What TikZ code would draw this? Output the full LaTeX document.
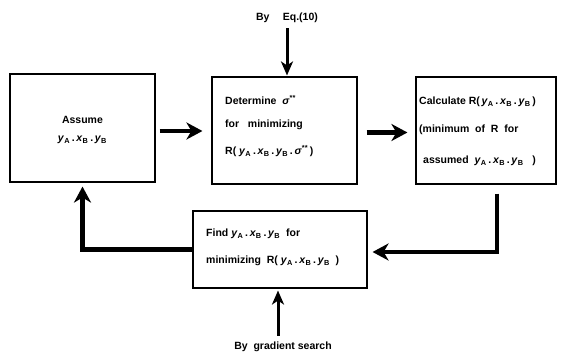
\documentclass[tikz,border=0pt]{standalone}
\usepackage{fontspec}
\setmainfont{Liberation Sans}
\usetikzlibrary{arrows.meta}
\newcommand{\vyA}{\textit{y}\textsubscript{A}}
\newcommand{\vxB}{\textit{x}\textsubscript{B}}
\newcommand{\vyB}{\textit{y}\textsubscript{B}}
\newcommand{\sig}{\textit{σ}\textsuperscript{**}}
\tikzset{
  box/.style={draw, line width=1.1pt, inner sep=0pt},
  txt/.style={font=\bfseries\fontsize{10.5}{12}\selectfont, inner sep=0pt},
  bigarr/.style={line width=4.5pt, -{Stealth[length=16pt,width=17pt,inset=5pt]}},
  thinarr/.style={line width=3pt, -{Stealth[length=14pt,width=12pt,inset=4pt]}}
}
\begin{document}
\begin{tikzpicture}[x=1pt,y=-1pt]
\useasboundingbox (0,0) rectangle (571,358);
% boxes
\node[box, minimum width=145pt, minimum height=108pt] (A) at (82.5,128) {};
\node[box, minimum width=145pt, minimum height=107pt] (D) at (284.5,130.5) {};
\node[box, minimum width=140pt, minimum height=107pt] (C) at (486,130.5) {};
\node[box, minimum width=174pt, minimum height=77pt] (F) at (280,249.5) {};
% texts
\node[txt] (a1) at (82.5,120) {Assume};
\node[txt] (a2) at (82.5,140) {\vyA\,.\,\vxB\,.\,\vyB};
\node[txt, anchor=west] (d1) at (225,100) {Determine\ \ \sig};
\node[txt, anchor=west] (d2) at (225,125) {for\ \ \ minimizing};
\node[txt, anchor=west] (d3) at (225,151) {R(\ \vyA\,.\,\vxB\,.\,\vyB\,.\,\sig\,)};
\node[txt, anchor=west] (c1) at (419,102) {Calculate\ R(\,\vyA\,.\,\vxB\,.\,\vyB\,)};
\node[txt, anchor=west] (c2) at (419,130) {(minimum\ \ of\ \ R\ \ for};
\node[txt, anchor=west] (c3) at (423,161) {assumed\ \ \vyA\,.\,\vxB\,.\,\vyB\ \ \ )};
\node[txt, anchor=west] (f1) at (206,234) {Find\ \vyA\,.\,\vxB\,.\,\vyB\ \ for};
\node[txt, anchor=west] (f2) at (206,261) {minimizing\ \ R(\ \vyA\,.\,\vxB\,.\,\vyB\ \ )};
\node[txt] (eq) at (287,18) {By\quad\ Eq.(10)};
\node[txt] (gs) at (283,347) {By\ \ gradient search};
% connectors
\draw[bigarr, shorten <=4pt, shorten >=9pt] ([yshift=-3pt]A.east) -- ([yshift=-3pt]A.east -| D.west);
\draw[bigarr, shorten <=9pt, shorten >=8pt] ([yshift=-2pt]D.east) -- ([yshift=-2pt]D.east -| C.west);
\draw[bigarr, shorten >=5pt] ([xshift=11pt,yshift=-9pt]C.south) |- ([yshift=-2.5pt]F.east);
\draw[bigarr, shorten >=4pt] (F.west) -| (A.south);
\draw[thinarr, shorten <=5pt, shorten >=1pt] ([xshift=2.5pt]D.north |- eq.south) -- ([xshift=2.5pt]D.north);
\draw[thinarr, shorten <=6pt, shorten >=2pt] ([xshift=-2pt]F.south |- gs.north) -- ([xshift=-2pt]F.south);
\end{tikzpicture}
\end{document}
